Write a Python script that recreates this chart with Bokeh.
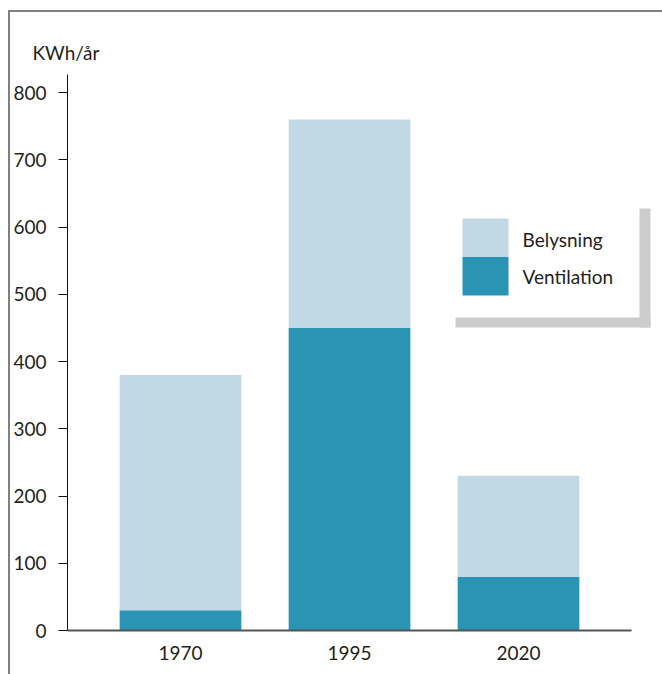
from bokeh.plotting import figure
from bokeh.models import (Range1d, BoxAnnotation, Label, FixedTicker, ColumnDataSource)
from bokeh.embed import file_html
from bokeh.resources import INLINE

# ---- data ----
years = ["1970", "1995", "2020"]
ventilation = [30, 450, 80]
belysning = [350, 310, 150]          # totals: 380, 760, 230
series = ["Ventilation", "Belysning"]
series_colors = ["#2b93b4", "#c1d9e4"]
y_ticks = [0, 100, 200, 300, 400, 500, 600, 700, 800]
unit_label = "KWh/år"

FONT = "Lato"
TXT = "#231f20"

# ---- layout constants (page pixels) ----
W, H = 662, 674
FRAME_L, FRAME_R, FRAME_T, FRAME_B = 67, 662, 74, 630
AXIS_R = 631
FIRST_C, STEP = 180, 169          # centre of first bar, spacing between bars (px)
Y_END = 827
ppu_y = (FRAME_B - FRAME_T) / Y_END
x_start = (FRAME_L - FIRST_C) / STEP
x_end = (FRAME_R - FIRST_C) / STEP


def dx(px):
    return x_start + (px - FRAME_L) / STEP


def dy(py):
    return (FRAME_B - py) / ppu_y


xpos = list(range(len(years)))

p = figure(x_range=Range1d(x_start, x_end), y_range=Range1d(0, Y_END),
           width=W, height=H, output_backend="svg", toolbar_location=None,
           min_border_left=FRAME_L, min_border_right=W - FRAME_R,
           min_border_top=FRAME_T, min_border_bottom=H - FRAME_B)
p.outline_line_color = None
p.xgrid.grid_line_color = None
p.ygrid.grid_line_color = None
p.background_fill_color = "white"
p.border_fill_alpha = 0
p.styles = {
    "background": ("linear-gradient(#808080,#808080) 8px 10px / 654px 2px no-repeat, "
                   "linear-gradient(#808080,#808080) 8px 10px / 2px 664px no-repeat, white")
}

src = ColumnDataSource(dict(x=xpos, Ventilation=ventilation, Belysning=belysning))
rs = p.vbar_stack(series, x="x", width=0.72, fill_color=series_colors,
                  line_color=None, source=src)

# axes
p.yaxis.ticker = FixedTicker(ticks=y_ticks)
p.yaxis.minor_tick_line_color = None
p.yaxis.major_tick_in = 0
p.yaxis.major_tick_out = 9
p.yaxis.axis_line_color = "#111111"
p.yaxis.major_tick_line_color = "#111111"
p.yaxis.major_label_standoff = 12

p.xaxis.ticker = FixedTicker(ticks=xpos)
p.xaxis.major_label_overrides = {i: y for i, y in zip(xpos, years)}
p.xaxis.bounds = (x_start, (AXIS_R - FIRST_C) / STEP)
p.xaxis.major_tick_line_color = None
p.xaxis.minor_tick_line_color = None
p.xaxis.major_tick_out = 0
p.xaxis.axis_line_color = "#555555"
p.xaxis.axis_line_width = 2
p.xaxis.major_label_standoff = 15

for ax in (p.xaxis, p.yaxis):
    ax.major_label_text_font = FONT
    ax.major_label_text_font_size = "19px"
    ax.major_label_text_color = TXT

# unit label as title
p.title.text = unit_label
p.title.align = "left"
p.title.offset = -35
p.title.text_font = FONT
p.title.text_font_size = "19px"
p.title.text_font_style = "normal"
p.title.text_color = TXT
p.title.standoff = 21

# legend shadow
p.add_layout(BoxAnnotation(left=dx(639), right=dx(650), top=dy(208), bottom=dy(327),
                           fill_color="#cccccc", fill_alpha=1, line_color=None, level="underlay"))
p.add_layout(BoxAnnotation(left=dx(455), right=dx(650), top=dy(317), bottom=dy(327),
                           fill_color="#cccccc", fill_alpha=1, line_color=None, level="underlay"))

# legend: light (Belysning) on top, dark (Ventilation) below
sw_top = [218, 256.5]
sw_bot = [256.5, 295]
text_base = [239, 276]
for k, idx in enumerate([1, 0]):
    p.add_layout(BoxAnnotation(left=dx(462), right=dx(508), top=dy(sw_top[k]),
                               bottom=dy(sw_bot[k]), fill_color=series_colors[idx],
                               fill_alpha=1, line_color=None))
    p.add_layout(Label(x=dx(522), y=dy(text_base[k]), text=series[idx], text_font=FONT,
                       text_font_size="19px", text_color=TXT,
                       text_baseline="alphabetic", text_align="left"))

open("out.html", "w").write(file_html(p, INLINE))
